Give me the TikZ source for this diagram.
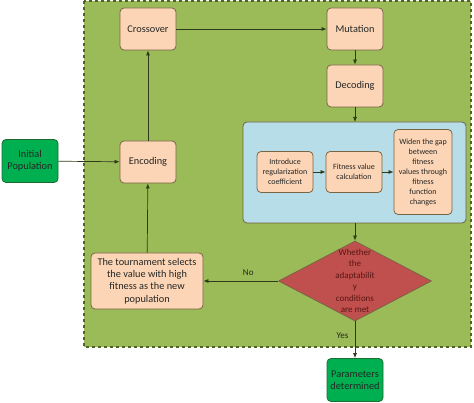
\documentclass[tikz,border=0pt]{standalone}
\usepackage{fontspec}
\setmainfont{Carlito}
\usepackage{tikz}
\usetikzlibrary{shapes.geometric,arrows.meta}

\definecolor{panelgreen}{HTML}{9BBB59}
\definecolor{panelline}{HTML}{4F6228}
\definecolor{peach}{HTML}{FBD5B5}
\definecolor{peachline}{HTML}{7A6446}
\definecolor{skyblue}{HTML}{B7DDE8}
\definecolor{condred}{HTML}{C0504D}
\definecolor{condtext}{HTML}{5A1614}
\definecolor{termgreen}{HTML}{00B050}
\definecolor{termline}{HTML}{1E6B32}
\definecolor{flowline}{HTML}{2F3A1A}

\tikzset{
	stepbox/.style={rectangle,rounded corners=4pt,draw=peachline,fill=peach,line width=0.8pt,
		align=center,inner sep=1pt,minimum width=56pt,minimum height=42pt,font=\fontsize{10.3}{12.2}\selectfont,text=black!85},
	smallbox/.style={stepbox,font=\fontsize{8}{10}\selectfont},
	termbox/.style={rectangle,rounded corners=4pt,draw=termline,fill=termgreen,line width=0.8pt,
		align=center,inner sep=1pt,minimum width=56pt,minimum height=43pt,font=\fontsize{10.3}{12.2}\selectfont,text=black!85},
	flow/.style={-{Latex[length=5pt,width=4pt]},color=flowline,line width=0.7pt},
}

\begin{document}
\begin{tikzpicture}[x=1pt,y=-1pt]
	\useasboundingbox (0,0) rectangle (474,403);

	% panels
	\draw[fill=panelgreen,draw=panelline,dashed,line width=1.5pt] (84,1) rectangle (471,347);
	\draw[fill=skyblue,draw=peachline!70!panelline,rounded corners=4pt,line width=0.8pt] (243,122) rectangle (466,223);
	\coordinate (bluetop) at (355,122);
	\coordinate (bluebot) at (355,223);

	\node[stepbox] (cross) at (148, 29)     {Crossover};
	\node[stepbox] (mut) at (355, 29)     {Mutation};
	\node[stepbox] (dec) at (355, 86)     {Decoding};
	\node[stepbox] (enc) at (148, 162)     {Encoding};
	\node[stepbox,minimum width=112pt,minimum height=56pt] (tour) at (147, 281)     {The tournament selects\\the value with high\\fitness as the new\\population};
	\node[termbox] (init) at (30, 161)     {Initial\\Population};
	\node[termbox] (param) at (355, 380)     {Parameters\\determined};

	\node[smallbox,minimum height=41pt] (reg) at (285, 172)     {Introduce\\regularization\\coefficient};
	\node[smallbox,minimum height=41pt] (fit) at (354, 172)     {Fitness value\\calculation};
	\node[smallbox,minimum width=58pt,minimum height=85pt] (gap) at (423, 172)     {Widen the gap\\between\\fitness\\values through\\fitness\\function\\changes};

	\node[diamond,draw=peachline,fill=condred,line width=0.8pt,minimum width=153pt,minimum height=80pt,inner sep=0pt] (cond) at (355, 281) {};
	\node[align=center,text=condtext,font=\fontsize{9}{11.4}\selectfont] (condlbl) at (355, 281)     {Whether\\the\\adaptabilit\\y\\conditions\\are met};

	\path[flow] (init) edge (enc);
	\path[flow] (enc) edge (cross);
	\path[flow] (cross) edge (mut);
	\path[flow] (mut) edge (dec);
	\path[flow] (dec) edge (bluetop);
	\path[flow] (reg) edge (fit);
	\path[flow] (fit) edge (gap);
	\path[flow] (bluebot) edge (cond.north);
	\path[flow] (cond.west) edge node[above=2pt,pos=0.4,text=black!85,font=\fontsize{9}{11}\selectfont] {No} (tour);
	\path[flow] (tour) edge (enc);
	\path[flow] (cond.south) edge node[left=3pt,pos=0.4,text=black!85,font=\fontsize{9}{11}\selectfont] {Yes} (param);
\end{tikzpicture}
\end{document}
